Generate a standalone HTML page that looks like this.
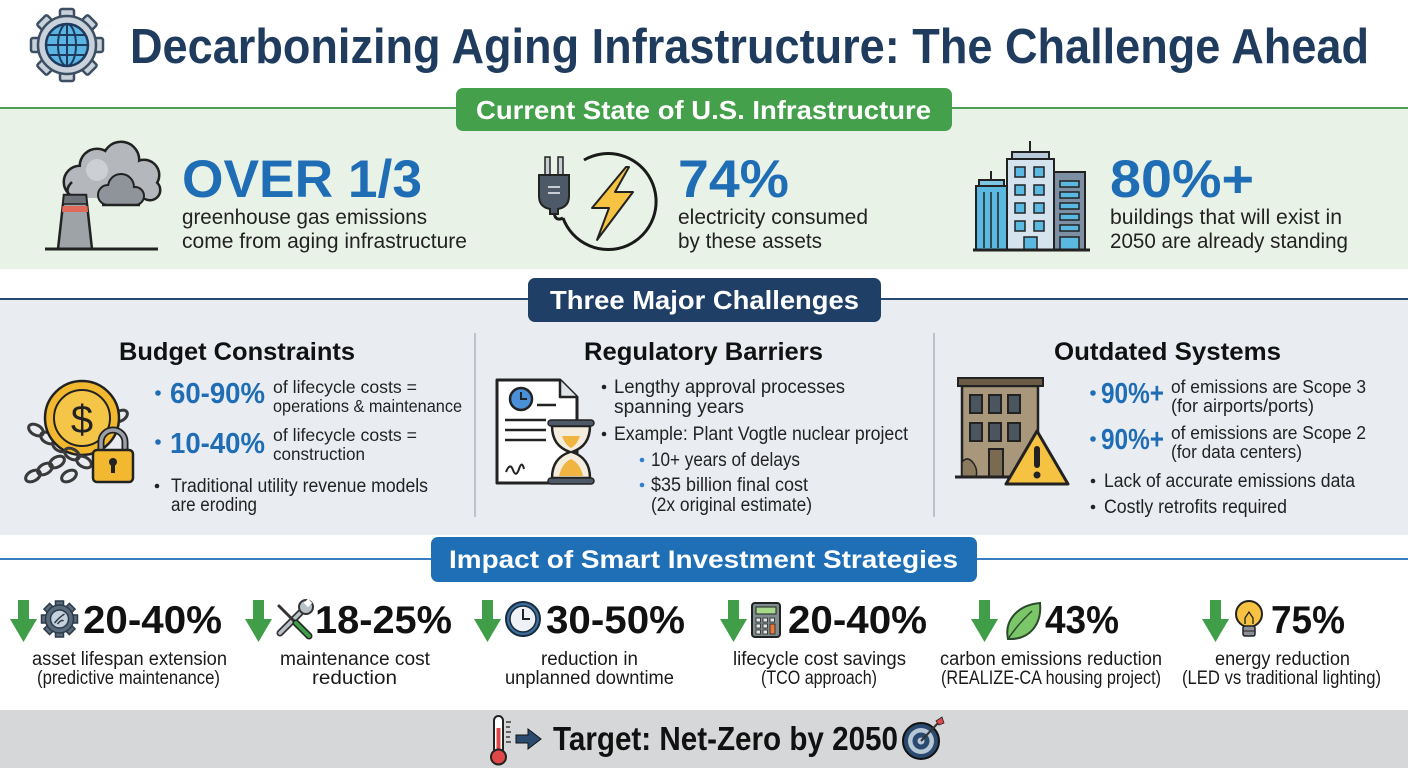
<!DOCTYPE html>
<html><head><meta charset="utf-8"><style>
html,body{margin:0;padding:0;background:#fff;}
svg{display:block;}
text{font-family:"Liberation Sans",Arial,sans-serif;}
.b{font-weight:bold;}
</style></head><body>
<svg width="1408" height="768" viewBox="0 0 1408 768" xmlns="http://www.w3.org/2000/svg">
<rect width="1408" height="768" fill="#ffffff"/>

<!-- HEADER GEAR -->
<g transform="translate(67,45)" stroke="#3d4f63" stroke-width="2.5" fill="#c9d1da">
  <g id="t"><rect x="-7" y="-36" width="14" height="12" rx="2"/></g>
  <rect x="-7" y="-36" width="14" height="12" rx="2" transform="rotate(45)"/>
  <rect x="-7" y="-36" width="14" height="12" rx="2" transform="rotate(90)"/>
  <rect x="-7" y="-36" width="14" height="12" rx="2" transform="rotate(135)"/>
  <rect x="-7" y="-36" width="14" height="12" rx="2" transform="rotate(180)"/>
  <rect x="-7" y="-36" width="14" height="12" rx="2" transform="rotate(225)"/>
  <rect x="-7" y="-36" width="14" height="12" rx="2" transform="rotate(270)"/>
  <rect x="-7" y="-36" width="14" height="12" rx="2" transform="rotate(315)"/>
  <circle r="29"/>
  <circle r="21" fill="#5bb5e3" stroke="#1e3a5f"/>
  <ellipse rx="9" ry="21" fill="none" stroke="#1e3a5f" stroke-width="2"/>
  <line x1="0" y1="-21" x2="0" y2="21" stroke="#1e3a5f" stroke-width="2"/>
  <line x1="-21" y1="0" x2="21" y2="0" stroke="#1e3a5f" stroke-width="2"/>
  <line x1="-18" y1="-10" x2="18" y2="-10" stroke="#1e3a5f" stroke-width="2"/>
  <line x1="-18" y1="10" x2="18" y2="10" stroke="#1e3a5f" stroke-width="2"/>
</g>
<text x="130" y="63" font-size="49" class="b" fill="#1f3b5e" textLength="1239" lengthAdjust="spacingAndGlyphs">Decarbonizing Aging Infrastructure: The Challenge Ahead</text>

<!-- GREEN BAND -->
<rect x="0" y="108" width="1408" height="161" fill="#e9f2e7"/>
<line x1="0" y1="108" x2="1408" y2="108" stroke="#4e9e52" stroke-width="2"/>
<rect x="456" y="88" width="496" height="43" rx="7" fill="#45a04b"/>
<text x="476" y="119" font-size="26" class="b" fill="#ffffff" textLength="455" lengthAdjust="spacingAndGlyphs">Current State of U.S. Infrastructure</text>

<!-- factory icon -->
<g>
  <g fill="#c4c7cb" stroke="#222" stroke-width="5">
    <circle cx="80" cy="182" r="15"/><circle cx="97" cy="166" r="16"/><circle cx="121" cy="160" r="17"/><circle cx="144" cy="175" r="14"/><circle cx="150" cy="190" r="9"/>
  </g>
  <g fill="#b4b8bd">
    <circle cx="80" cy="182" r="15"/><circle cx="97" cy="166" r="16"/><circle cx="121" cy="160" r="17"/><circle cx="144" cy="175" r="14"/><circle cx="150" cy="190" r="9"/>
    <rect x="80" y="170" width="70" height="28"/>
  </g>
  <circle cx="97" cy="170" r="11" fill="#cdd0d3"/>
  <path d="M70,196 Q64,190 72,182" fill="none" stroke="#222" stroke-width="2.5"/>
  <g fill="#8e949a" stroke="#222" stroke-width="4">
    <circle cx="108" cy="195" r="9"/><circle cx="121" cy="187" r="12"/><circle cx="135" cy="196" r="8"/>
  </g>
  <g fill="#8e949a">
    <circle cx="108" cy="195" r="9"/><circle cx="121" cy="187" r="12"/><circle cx="135" cy="196" r="8"/>
    <rect x="108" y="190" width="27" height="14"/>
  </g>
  <line x1="102" y1="205" x2="140" y2="205" stroke="#222" stroke-width="2.5"/>
  <polygon points="64,195 86,195 92,249 58,249" fill="#9ea3a8" stroke="#222" stroke-width="2.5"/>
  <polygon points="64,195 86,195 87,204 63,204" fill="#6d7379" stroke="#222" stroke-width="1.5"/>
  <polygon points="62.5,206 87.5,206 88,212 62,212" fill="#e06a5a"/>
  <line x1="45" y1="249" x2="158" y2="249" stroke="#222" stroke-width="3"/>
</g>
<text x="182" y="197" font-size="53" class="b" fill="#1f6db5" textLength="240" lengthAdjust="spacingAndGlyphs">OVER 1/3</text>
<text x="182" y="224" font-size="21" fill="#222" textLength="245" lengthAdjust="spacingAndGlyphs">greenhouse gas emissions</text>
<text x="182" y="248" font-size="21" fill="#222" textLength="285" lengthAdjust="spacingAndGlyphs">come from aging infrastructure</text>

<!-- plug icon -->
<g>
  <path d="M584,160 A48,48 0 1,1 563,218" fill="none" stroke="#1a1a1a" stroke-width="3"/>
  <path d="M554,212 Q555,222 563,218" fill="none" stroke="#1a1a1a" stroke-width="3"/>
  <rect x="545" y="157" width="5" height="19" fill="#c7cdd3" stroke="#222" stroke-width="1.5"/>
  <rect x="558" y="157" width="5" height="19" fill="#c7cdd3" stroke="#222" stroke-width="1.5"/>
  <path d="M539,175 H569 V196 Q569,207 558,209 V214 H550 V209 Q539,207 539,196 Z" fill="#4d5966" stroke="#222" stroke-width="2"/>
  <line x1="548" y1="187" x2="560" y2="187" stroke="#c7cdd3" stroke-width="2"/>
  <line x1="548" y1="193" x2="560" y2="193" stroke="#c7cdd3" stroke-width="2"/>
  <polygon points="626,167 592,208 609,208 597,240 633,192 615,192 629,167" fill="#f5c242" stroke="#222" stroke-width="2" stroke-linejoin="round"/>
</g>
<text x="678" y="197" font-size="53" class="b" fill="#1f6db5" textLength="111" lengthAdjust="spacingAndGlyphs">74%</text>
<text x="678" y="224" font-size="21" fill="#222" textLength="190" lengthAdjust="spacingAndGlyphs">electricity consumed</text>
<text x="678" y="248" font-size="21" fill="#222" textLength="144" lengthAdjust="spacingAndGlyphs">by these assets</text>

<!-- buildings icon -->
<g stroke="#222" stroke-width="2">
  <line x1="991" y1="171" x2="991" y2="181"/>
  <rect x="979" y="180" width="25" height="6" fill="#7fc6e6"/>
  <rect x="976" y="186" width="31" height="64" fill="#5bb8e0"/>
  <line x1="984" y1="192" x2="984" y2="248" stroke-width="1.5"/>
  <line x1="991" y1="192" x2="991" y2="248" stroke-width="1.5"/>
  <line x1="998" y1="192" x2="998" y2="248" stroke-width="1.5"/>
  <line x1="1030" y1="141" x2="1030" y2="152"/>
  <rect x="1012" y="152" width="37" height="7" fill="#b9cbdb"/>
  <rect x="1007" y="159" width="47" height="91" fill="#d5e3ee"/>
  <rect x="1054" y="172" width="31" height="78" fill="#7d8fa3"/>
  <g fill="#5bb8e0" stroke-width="1.5">
    <rect x="1015" y="167" width="10" height="10"/><rect x="1034" y="167" width="10" height="10"/>
    <rect x="1015" y="185" width="10" height="10"/><rect x="1034" y="185" width="10" height="10"/>
    <rect x="1015" y="203" width="10" height="10"/><rect x="1034" y="203" width="10" height="10"/>
    <rect x="1015" y="221" width="10" height="10"/><rect x="1034" y="221" width="10" height="10"/>
    <rect x="1024" y="237" width="13" height="13"/>
    <rect x="1060" y="181" width="19" height="6"/><rect x="1060" y="192" width="19" height="6"/>
    <rect x="1060" y="203" width="19" height="6"/><rect x="1060" y="214" width="19" height="6"/>
    <rect x="1060" y="225" width="19" height="6"/><rect x="1060" y="237" width="19" height="13"/>
  </g>
  <line x1="973" y1="250" x2="1090" y2="250" stroke-width="3"/>
</g>
<text x="1110" y="197" font-size="53" class="b" fill="#1f6db5" textLength="144" lengthAdjust="spacingAndGlyphs">80%+</text>
<text x="1110" y="224" font-size="21" fill="#222" textLength="232" lengthAdjust="spacingAndGlyphs">buildings that will exist in</text>
<text x="1110" y="248" font-size="21" fill="#222" textLength="238" lengthAdjust="spacingAndGlyphs">2050 are already standing</text>

<!-- GRAY BAND -->
<rect x="0" y="299" width="1408" height="236" fill="#e9edf2"/>
<line x1="0" y1="299" x2="1408" y2="299" stroke="#264a72" stroke-width="2"/>
<rect x="528" y="278" width="353" height="44" rx="7" fill="#1f3f66"/>
<text x="550" y="309" font-size="26" class="b" fill="#ffffff" textLength="309" lengthAdjust="spacingAndGlyphs">Three Major Challenges</text>
<line x1="475" y1="333" x2="475" y2="517" stroke="#aeb3b9" stroke-width="1.5"/>
<line x1="934" y1="333" x2="934" y2="517" stroke="#aeb3b9" stroke-width="1.5"/>

<text x="119" y="360" font-size="25" class="b" fill="#111" textLength="236" lengthAdjust="spacingAndGlyphs">Budget Constraints</text>
<text x="584" y="360" font-size="25" class="b" fill="#111" textLength="239" lengthAdjust="spacingAndGlyphs">Regulatory Barriers</text>
<text x="1054" y="360" font-size="25" class="b" fill="#111" textLength="227" lengthAdjust="spacingAndGlyphs">Outdated Systems</text>

<!-- coin/chain/lock -->
<g>
  <g fill="none" stroke="#3a3a3a" stroke-width="3">
    <ellipse cx="36" cy="430" rx="8" ry="5" transform="rotate(30 36 430)"/>
    <ellipse cx="48" cy="438" rx="8" ry="5" transform="rotate(30 48 438)"/>
    <ellipse cx="60" cy="446" rx="8" ry="5" transform="rotate(30 60 446)"/>
    <ellipse cx="120" cy="416" rx="8" ry="5" transform="rotate(-30 120 416)"/>
  </g>
  <circle cx="82" cy="418" r="37" fill="#f2b930" stroke="#222" stroke-width="2.5"/>
  <circle cx="82" cy="418" r="28" fill="#f5c548" stroke="#222" stroke-width="2"/>
  <text x="82" y="433" font-size="40" text-anchor="middle" fill="#222">$</text>
  <g fill="none" stroke="#3a3a3a" stroke-width="3">
    <ellipse cx="72" cy="454" rx="8" ry="5" transform="rotate(30 72 454)"/>
    <ellipse cx="84" cy="462" rx="8" ry="5" transform="rotate(30 84 462)"/>
    <ellipse cx="33" cy="476" rx="8" ry="5" transform="rotate(-30 33 476)"/>
    <ellipse cx="45" cy="469" rx="8" ry="5" transform="rotate(-30 45 469)"/>
    <ellipse cx="57" cy="462" rx="8" ry="5" transform="rotate(-30 57 462)"/>
    <ellipse cx="69" cy="476" rx="8" ry="5" transform="rotate(-30 69 476)"/>
  </g>
  <path d="M101,453 V442 A12,12 0 0,1 125,442 V453" fill="none" stroke="#222" stroke-width="7"/>
  <path d="M101,453 V442 A12,12 0 0,1 125,442 V453" fill="none" stroke="#9aa0a6" stroke-width="3.5"/>
  <rect x="93" y="450" width="40" height="32" rx="4" fill="#f2b930" stroke="#222" stroke-width="2.5"/>
  <circle cx="113" cy="462" r="4" fill="#222"/>
  <rect x="111" y="463" width="4" height="10" fill="#222"/>
</g>

<circle cx="158" cy="393" r="2.8" fill="#1f6db5"/>
<text x="170" y="403" font-size="29" class="b" fill="#1f6db5" textLength="95" lengthAdjust="spacingAndGlyphs">60-90%</text>
<text x="273" y="393" font-size="17.5" fill="#222" textLength="144" lengthAdjust="spacingAndGlyphs">of lifecycle costs =</text>
<text x="273" y="412" font-size="17.5" fill="#222" textLength="189" lengthAdjust="spacingAndGlyphs">operations &amp; maintenance</text>
<circle cx="158" cy="442" r="2.8" fill="#1f6db5"/>
<text x="170" y="453" font-size="29" class="b" fill="#1f6db5" textLength="95" lengthAdjust="spacingAndGlyphs">10-40%</text>
<text x="273" y="441" font-size="17.5" fill="#222" textLength="144" lengthAdjust="spacingAndGlyphs">of lifecycle costs =</text>
<text x="273" y="460" font-size="17.5" fill="#222" textLength="92" lengthAdjust="spacingAndGlyphs">construction</text>
<circle cx="157" cy="486" r="2.3" fill="#222"/>
<text x="171" y="492" font-size="19" fill="#222" textLength="257" lengthAdjust="spacingAndGlyphs">Traditional utility revenue models</text>
<text x="171" y="511" font-size="19" fill="#222" textLength="86" lengthAdjust="spacingAndGlyphs">are eroding</text>

<!-- document / hourglass -->
<g>
  <path d="M497,380 H560 L577,397 V483 H497 Z" fill="#ffffff" stroke="#222" stroke-width="3" stroke-linejoin="round"/>
  <path d="M560,380 V397 H577" fill="#dfe3e8" stroke="#222" stroke-width="2.5" stroke-linejoin="round"/>
  <circle cx="521" cy="399" r="11" fill="#4a90d8" stroke="#222" stroke-width="2.5"/>
  <path d="M521,392 V399 H527" fill="none" stroke="#222" stroke-width="2"/>
  <line x1="537" y1="405" x2="556" y2="405" stroke="#222" stroke-width="2.5"/>
  <line x1="505" y1="420" x2="546" y2="420" stroke="#222" stroke-width="2.5"/>
  <line x1="505" y1="430" x2="546" y2="430" stroke="#222" stroke-width="2.5"/>
  <line x1="505" y1="440" x2="546" y2="440" stroke="#222" stroke-width="2.5"/>
  <path d="M506,472 q4,-10 7,-2 t6,-1 t5,0" fill="none" stroke="#222" stroke-width="2"/>
  <path d="M552,426 H590 Q590,446 572,452 Q590,458 590,478 H552 Q552,458 570,452 Q552,446 552,426 Z" fill="#f4ecdc" stroke="#222" stroke-width="2.5"/>
  <path d="M559,476 Q562,463 571,459 Q580,463 583,476 Z" fill="#f0b440"/>
  <path d="M562,436 H580 Q577,445 571,448 Q565,445 562,436 Z" fill="#f0b440"/>
  <rect x="548" y="420" width="46" height="6" rx="3" fill="#4d5966" stroke="#222" stroke-width="1.5"/>
  <rect x="548" y="478" width="46" height="6" rx="3" fill="#4d5966" stroke="#222" stroke-width="1.5"/>
</g>

<circle cx="604" cy="387" r="2.3" fill="#222"/>
<text x="614" y="393" font-size="19" fill="#222" textLength="231" lengthAdjust="spacingAndGlyphs">Lengthy approval processes</text>
<text x="614" y="413" font-size="19" fill="#222" textLength="130" lengthAdjust="spacingAndGlyphs">spanning years</text>
<circle cx="604" cy="434" r="2.3" fill="#222"/>
<text x="614" y="440" font-size="19" fill="#222" textLength="294" lengthAdjust="spacingAndGlyphs">Example: Plant Vogtle nuclear project</text>
<circle cx="642" cy="460" r="2.3" fill="#2f7fcf"/>
<text x="651" y="466" font-size="19" fill="#222" textLength="149" lengthAdjust="spacingAndGlyphs">10+ years of delays</text>
<circle cx="642" cy="485" r="2.3" fill="#2f7fcf"/>
<text x="651" y="491" font-size="19" fill="#222" textLength="157" lengthAdjust="spacingAndGlyphs">$35 billion final cost</text>
<text x="651" y="511" font-size="19" fill="#222" textLength="161" lengthAdjust="spacingAndGlyphs">(2x original estimate)</text>

<!-- old building / warning -->
<g stroke="#222">
  <rect x="962" y="386" width="76" height="91" fill="#a8977a" stroke-width="2.5"/>
  <rect x="958" y="378" width="85" height="8" fill="#6b5a45" stroke-width="2"/>
  <g fill="#4a5560" stroke-width="2">
    <rect x="970" y="395" width="12" height="18"/><rect x="989" y="395" width="12" height="18"/><rect x="1008" y="395" width="12" height="18"/>
    <rect x="970" y="423" width="12" height="18"/><rect x="989" y="423" width="12" height="18"/><rect x="1008" y="423" width="12" height="18"/>
  </g>
  <rect x="989" y="449" width="14" height="28" fill="#7a6a52" stroke-width="2"/>
  <path d="M962,477 V462 Q968,455 974,464 Q978,470 976,477 Z" fill="#8a7a5e" stroke-width="1.5"/>
  <line x1="955" y1="477" x2="1010" y2="477" stroke-width="3"/>
  <path d="M1037,431 L1068,484 H1006 Z" fill="#f5c242" stroke-width="3" stroke-linejoin="round"/>
</g>
<rect x="1034" y="446" width="6" height="22" rx="3" fill="#222"/>
<circle cx="1037" cy="475" r="3.5" fill="#222"/>

<circle cx="1093" cy="393" r="2.8" fill="#1f6db5"/>
<text x="1101" y="403" font-size="29" class="b" fill="#1f6db5" textLength="63" lengthAdjust="spacingAndGlyphs">90%+</text>
<text x="1171" y="393" font-size="18" fill="#222" textLength="195" lengthAdjust="spacingAndGlyphs">of emissions are Scope 3</text>
<text x="1171" y="412" font-size="18" fill="#222" textLength="143" lengthAdjust="spacingAndGlyphs">(for airports/ports)</text>
<circle cx="1093" cy="439" r="2.8" fill="#1f6db5"/>
<text x="1101" y="449" font-size="29" class="b" fill="#1f6db5" textLength="63" lengthAdjust="spacingAndGlyphs">90%+</text>
<text x="1171" y="439" font-size="18" fill="#222" textLength="195" lengthAdjust="spacingAndGlyphs">of emissions are Scope 2</text>
<text x="1171" y="458" font-size="18" fill="#222" textLength="131" lengthAdjust="spacingAndGlyphs">(for data centers)</text>
<circle cx="1093" cy="481" r="2.3" fill="#222"/>
<text x="1104" y="487" font-size="19" fill="#222" textLength="251" lengthAdjust="spacingAndGlyphs">Lack of accurate emissions data</text>
<circle cx="1093" cy="507" r="2.3" fill="#222"/>
<text x="1104" y="513" font-size="19" fill="#222" textLength="183" lengthAdjust="spacingAndGlyphs">Costly retrofits required</text>

<!-- IMPACT -->
<line x1="0" y1="559" x2="1408" y2="559" stroke="#3a7cc0" stroke-width="2"/>
<rect x="431" y="537" width="546" height="45" rx="7" fill="#1f6fb7"/>
<text x="449" y="568" font-size="25" class="b" fill="#ffffff" textLength="509" lengthAdjust="spacingAndGlyphs">Impact of Smart Investment Strategies</text>

<g fill="#3f9e47">
  <polygon points="18,600 29,600 29,619 37,619 23.5,642 10,619 18,619"/>
  <polygon points="253,600 264,600 264,619 272,619 258.5,642 245,619 253,619"/>
  <polygon points="482,600 493,600 493,619 501,619 487.5,642 474,619 482,619"/>
  <polygon points="728,600 739,600 739,619 747,619 733.5,642 720,619 728,619"/>
  <polygon points="979,600 990,600 990,619 998,619 984.5,642 971,619 979,619"/>
  <polygon points="1210,600 1221,600 1221,619 1229,619 1215.5,642 1202,619 1210,619"/>
</g>

<!-- small gear -->
<g transform="translate(59.5,619)" fill="#5a6b7e" stroke="#2d3a48" stroke-width="1.5">
  <rect x="-4" y="-18" width="8" height="7"/>
  <rect x="-4" y="-18" width="8" height="7" transform="rotate(45)"/>
  <rect x="-4" y="-18" width="8" height="7" transform="rotate(90)"/>
  <rect x="-4" y="-18" width="8" height="7" transform="rotate(135)"/>
  <rect x="-4" y="-18" width="8" height="7" transform="rotate(180)"/>
  <rect x="-4" y="-18" width="8" height="7" transform="rotate(225)"/>
  <rect x="-4" y="-18" width="8" height="7" transform="rotate(270)"/>
  <rect x="-4" y="-18" width="8" height="7" transform="rotate(315)"/>
  <circle r="14"/>
  <circle r="9" fill="#c5d2de"/>
  <path d="M-5,4 Q0,-2 5,-5 M-2,5 Q2,0 4,2" fill="none" stroke="#2d3a48" stroke-width="1.5"/>
</g>
<text x="83" y="633" font-size="39" class="b" fill="#111" textLength="139" lengthAdjust="spacingAndGlyphs">20-40%</text>

<!-- wrench + screwdriver -->
<g stroke-linecap="round">
  <line x1="280" y1="633" x2="303" y2="610" stroke="#333" stroke-width="7"/>
  <line x1="280" y1="633" x2="303" y2="610" stroke="#b8c0c8" stroke-width="3.5"/>
  <circle cx="306" cy="607" r="7" fill="#b8c0c8" stroke="#333" stroke-width="2"/>
  <rect x="305" y="600" width="6" height="6" fill="#ffffff" transform="rotate(45 308 603)"/>
  <line x1="279" y1="606" x2="296" y2="623" stroke="#333" stroke-width="3"/>
  <line x1="296" y1="623" x2="309" y2="636" stroke="#222" stroke-width="7"/>
  <line x1="296" y1="623" x2="309" y2="636" stroke="#3f9e47" stroke-width="4"/>
</g>
<text x="315" y="633" font-size="39" class="b" fill="#111" textLength="137" lengthAdjust="spacingAndGlyphs">18-25%</text>

<!-- clock -->
<g>
  <circle cx="523" cy="619" r="17" fill="#3d6f9f" stroke="#1a2a3a" stroke-width="2"/>
  <circle cx="523" cy="619" r="13" fill="#eef2f6" stroke="#1a2a3a" stroke-width="1.5"/>
  <path d="M523,609 V619 H530" fill="none" stroke="#222" stroke-width="2"/>
</g>
<text x="546" y="633" font-size="39" class="b" fill="#111" textLength="139" lengthAdjust="spacingAndGlyphs">30-50%</text>

<!-- calculator -->
<g>
  <rect x="752" y="603" width="28" height="34" rx="3" fill="#7f8c8d" stroke="#222" stroke-width="2"/>
  <rect x="756" y="607" width="20" height="7" fill="#a8d88a" stroke="#222" stroke-width="1"/>
  <g fill="#e5e5e5" stroke="#222" stroke-width="0.8">
    <rect x="756" y="618" width="4.5" height="4"/><rect x="763" y="618" width="4.5" height="4"/><rect x="770" y="618" width="4.5" height="4"/>
    <rect x="756" y="624" width="4.5" height="4"/><rect x="763" y="624" width="4.5" height="4"/>
    <rect x="756" y="630" width="4.5" height="4"/><rect x="763" y="630" width="4.5" height="4"/>
  </g>
  <rect x="770" y="624" width="5" height="10" fill="#e8773a" stroke="#222" stroke-width="0.8"/>
</g>
<text x="788" y="633" font-size="39" class="b" fill="#111" textLength="139" lengthAdjust="spacingAndGlyphs">20-40%</text>

<!-- leaf -->
<g>
  <path d="M1008,639 C1004,620 1018,605 1040,603 C1042,624 1030,640 1008,639 Z" fill="#7cc66a" stroke="#2b4a2b" stroke-width="2"/>
  <path d="M1008,639 Q1018,624 1032,611" fill="none" stroke="#2b4a2b" stroke-width="1.5"/>
</g>
<text x="1045" y="633" font-size="39" class="b" fill="#111" textLength="74" lengthAdjust="spacingAndGlyphs">43%</text>

<!-- bulb -->
<g>
  <circle cx="1249" cy="614" r="13" fill="#f5c242" stroke="#222" stroke-width="2"/>
  <path d="M1245,624 V618 L1249,612 L1253,618 V624" fill="none" stroke="#222" stroke-width="1.3"/>
  <rect x="1243" y="626" width="12" height="10" rx="2" fill="#8a8f95" stroke="#222" stroke-width="1.5"/>
  <line x1="1243" y1="631" x2="1255" y2="631" stroke="#222" stroke-width="1"/>
</g>
<text x="1271" y="633" font-size="39" class="b" fill="#111" textLength="74" lengthAdjust="spacingAndGlyphs">75%</text>

<g font-size="19" fill="#1a1a1a">
<text x="32" y="665" textLength="195" lengthAdjust="spacingAndGlyphs">asset lifespan extension</text>
<text x="37" y="684" textLength="183" lengthAdjust="spacingAndGlyphs">(predictive maintenance)</text>
<text x="280" y="665" textLength="150" lengthAdjust="spacingAndGlyphs">maintenance cost</text>
<text x="312" y="684" textLength="85" lengthAdjust="spacingAndGlyphs">reduction</text>
<text x="541" y="665" textLength="97" lengthAdjust="spacingAndGlyphs">reduction in</text>
<text x="505" y="684" textLength="169" lengthAdjust="spacingAndGlyphs">unplanned downtime</text>
<text x="733" y="665" textLength="173" lengthAdjust="spacingAndGlyphs">lifecycle cost savings</text>
<text x="761" y="684" textLength="116" lengthAdjust="spacingAndGlyphs">(TCO approach)</text>
<text x="940" y="665" textLength="222" lengthAdjust="spacingAndGlyphs">carbon emissions reduction</text>
<text x="941" y="684" textLength="220" lengthAdjust="spacingAndGlyphs">(REALIZE-CA housing project)</text>
<text x="1215" y="665" textLength="135" lengthAdjust="spacingAndGlyphs">energy reduction</text>
<text x="1182" y="684" textLength="199" lengthAdjust="spacingAndGlyphs">(LED vs traditional lighting)</text>
</g>

<!-- FOOTER -->
<rect x="0" y="710" width="1408" height="58" fill="#d6d7d9"/>
<g>
  <rect x="494" y="716" width="9" height="38" rx="4.5" fill="#ffffff" stroke="#222" stroke-width="2"/>
  <rect x="496.5" y="728" width="4" height="28" fill="#e04848"/>
  <circle cx="498.5" cy="757" r="7.5" fill="#e04848" stroke="#222" stroke-width="2"/>
  <g stroke="#222" stroke-width="1.3">
    <line x1="506" y1="722" x2="511" y2="722"/><line x1="506" y1="727" x2="510" y2="727"/>
    <line x1="506" y1="732" x2="511" y2="732"/><line x1="506" y1="737" x2="510" y2="737"/>
    <line x1="506" y1="742" x2="511" y2="742"/>
  </g>
  <polygon points="516,735 528,735 528,729 541,739 528,749 528,743 516,743" fill="#2b4a6f" stroke="#111" stroke-width="1"/>
</g>
<text x="553" y="750" font-size="33" class="b" fill="#111" textLength="345" lengthAdjust="spacingAndGlyphs">Target: Net-Zero by 2050</text>
<g>
  <circle cx="921" cy="741" r="18" fill="#2b4a6f" stroke="#111" stroke-width="2"/>
  <circle cx="921" cy="741" r="13" fill="#b8c7d6"/>
  <circle cx="921" cy="741" r="8.5" fill="#2b4a6f"/>
  <circle cx="921" cy="741" r="3.5" fill="#b8c7d6"/>
  <line x1="921" y1="741" x2="939" y2="722" stroke="#333" stroke-width="2"/>
  <polygon points="936,721 942,717 944,723 939,725" fill="#e04848" stroke="#222" stroke-width="0.8"/>
</g>
</svg>
</body></html>
